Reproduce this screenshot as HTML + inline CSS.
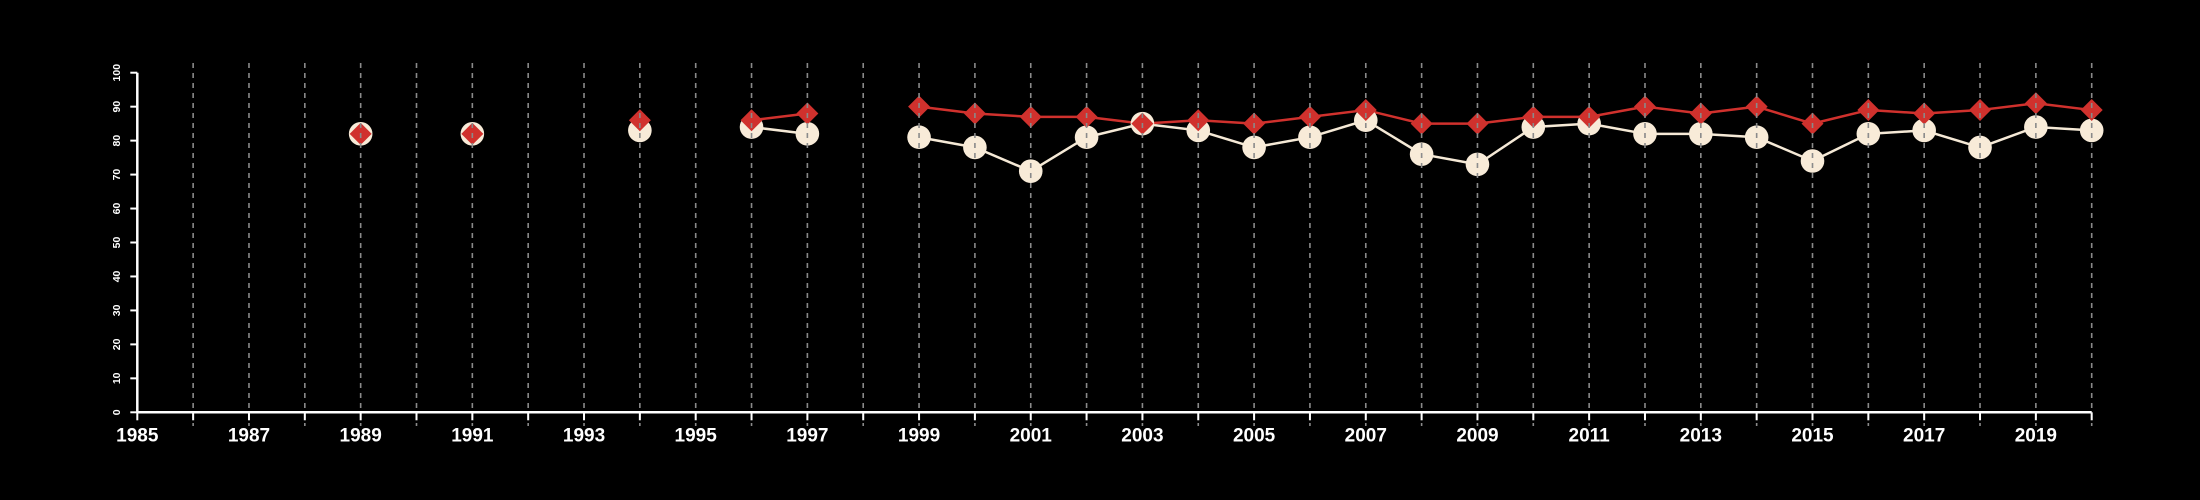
<!DOCTYPE html>
<html><head><meta charset="utf-8"><style>
html,body{margin:0;padding:0;background:#000;}
svg{display:block;font-family:"Liberation Sans",Arial,sans-serif;}
</style></head><body>
<svg id="chart" width="2200" height="500" viewBox="0 0 2200 500">
<rect width="2200" height="500" fill="#000"/>
<g id="series"></g><g id="grid"></g><g id="axes"></g>
</svg>
<script>
const years = [1989,1991,1994,1996,1997,1999,2000,2001,2002,2003,2004,2005,2006,2007,2008,2009,2010,2011,2012,2013,2014,2015,2016,2017,2018,2019,2020];
const whiteValues = [82,82,83,84,82,81,78,71,81,85,83,78,81,86,76,73,84,85,82,82,81,74,82,83,78,84,83];
const redValues = [82,82,86,86,88,90,88,87,87,85,86,85,87,89,85,85,87,87,90,88,90,85,89,88,89,91,89];
const yTicks = [0,10,20,30,40,50,60,70,80,90,100];
const xLabelYears = [1985,1987,1989,1991,1993,1995,1997,1999,2001,2003,2005,2007,2009,2011,2013,2015,2017,2019];

const NS="http://www.w3.org/2000/svg";
const x0=137.3,x1=2091.7,yr0=1985,yr1=2020,py0=412.3,py1=72.7;
const xs=v=>x0+(v-yr0)*(x1-x0)/(yr1-yr0);
const ys=v=>py0+(v-0)*(py1-py0)/100;
function mk(tag,attrs,parent){const e=document.createElementNS(NS,tag);for(const k in attrs)e.setAttribute(k,attrs[k]);parent.appendChild(e);return e;}
const grid=document.getElementById('grid'),axes=document.getElementById('axes'),series=document.getElementById('series');

// grid
for(let y=yr0+1;y<=yr1;y++){
  const l=mk('line',{x1:xs(y),x2:xs(y),y1:63,y2:426,stroke:'#8a8a8a','stroke-width':1.6,'stroke-dasharray':'5,5'},grid);
  
  
}
// axes
const xa=mk('line',{x1:x0,x2:x1,y1:py0,y2:py0,stroke:'#fff','stroke-width':2.5},axes);


const ya=mk('line',{x1:x0,x2:x0,y1:py0,y2:py1,stroke:'#fff','stroke-width':2.5},axes);


for(let y=yr0;y<=yr1;y++){
  const t=mk('line',{x1:xs(y),x2:xs(y),y1:py0,y2:py0+8,stroke:'#fff','stroke-width':2},axes);
  
  
}
xLabelYears.forEach(y=>{
  const t=mk('text',{x:xs(y),y:py0+29,fill:'#fff','font-size':19,'font-weight':'bold','text-anchor':'middle'},axes);
  t.textContent=y;
  
  
});
yTicks.forEach(v=>{
  const t=mk('line',{x1:x0-7,x2:x0,y1:ys(v),y2:ys(v),stroke:'#fff','stroke-width':2},axes);
  
  
  const tx=mk('text',{x:0,y:0,fill:'#fff','font-size':10.5,'font-weight':'bold','text-anchor':'middle',transform:`translate(120,${ys(v)}) rotate(-90)`},axes);
  tx.textContent=v;
  
  
});
// lines (connect consecutive years only)
function drawLine(vals,color,name){
  for(let i=1;i<years.length;i++){
    if(years[i]-years[i-1]===1){
      const l=mk('line',{x1:xs(years[i-1]),y1:ys(vals[i-1]),x2:xs(years[i]),y2:ys(vals[i]),stroke:color,'stroke-width':2.5},series);
      
      
    }
  }
}
drawLine(whiteValues,'#f5e9d6','white-series');
drawLine(redValues,'#d0312d','red-series');
years.forEach((y,i)=>{
  const c=mk('circle',{cx:xs(y),cy:ys(whiteValues[i]),r:11.8,fill:'#f8ebd8'},series);
  
  
});
years.forEach((y,i)=>{
  const cx=xs(y),cy=ys(redValues[i]),d=11;
  const p=mk('polygon',{points:`${cx},${cy-d} ${cx+d},${cy} ${cx},${cy+d} ${cx-d},${cy}`,fill:'#d0312d'},series);
  
  
});
</script>
</body></html>
